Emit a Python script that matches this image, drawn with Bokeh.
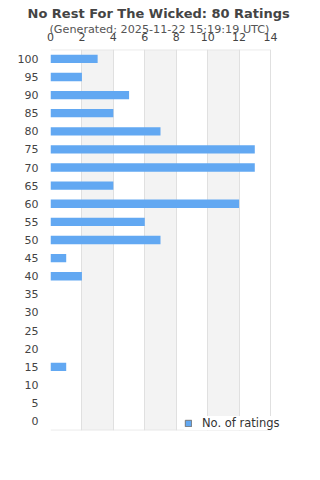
from bokeh.plotting import figure
from bokeh.models import Title, FixedTicker, ColumnDataSource, Legend, LegendItem
from bokeh.embed import file_html
from bokeh.resources import INLINE

scores = [0, 5, 10, 15, 20, 25, 30, 35, 40, 45, 50, 55, 60, 65, 70, 75, 80, 85, 90, 95, 100]
counts = [0, 0, 0, 1, 0, 0, 0, 0, 2, 1, 7, 6, 12, 4, 13, 13, 7, 4, 5, 2, 3]
x_ticks = [0, 2, 4, 6, 8, 10, 12, 14]
series_name = "No. of ratings"
title_text = "No Rest For The Wicked: 80 Ratings"
subtitle_text = "(Generated: 2025-11-22 15:19:19 UTC)"

BAR = "#62a8f2"
GRID = "#e0e0e0"

y_lo, y_hi = -2.5, 102.5
x_max_view = 14 * 250 / 220.0

src = ColumnDataSource(dict(y=scores, right=counts))

p = figure(width=320, height=480, output_backend="svg", toolbar_location=None,
           x_range=(0, x_max_view), y_range=(y_lo - 0.08, y_hi + 0.08),
           x_axis_location="above",
           min_border_left=50, min_border_right=20, min_border_bottom=50,
           min_border_top=0, title=None)

# alternating grey bands between ticks (2-4, 6-8, 10-12)
p.quad(left=x_ticks[1:-1:2], right=x_ticks[2::2], bottom=y_lo, top=y_hi,
       fill_color="#f3f3f3", line_color=None, level="underlay")

r = p.hbar(y="y", right="right", left=0, height=2.3, source=src,
           fill_color=BAR, line_color=None)

# frame top / bottom edges between first and last tick
p.segment(x0=[x_ticks[0], x_ticks[0]], x1=[x_ticks[-1], x_ticks[-1]],
          y0=[y_lo, y_hi], y1=[y_lo, y_hi], line_color=GRID, line_width=1)

# legend swatch renderer (degenerate, zero-size)
sw = p.quad(left=[x_ticks[0]], right=[x_ticks[0]], bottom=[scores[0]],
            top=[scores[0]], fill_color=BAR, line_color="#777777", line_width=1)

p.add_layout(Title(text=subtitle_text, align="left", text_font="DejaVu Sans",
                   text_font_size="11.2px", text_font_style="normal",
                   text_color="#555555", standoff=-13, offset=-1), "above")
p.add_layout(Title(text=title_text, align="left", text_font="DejaVu Sans",
                   text_font_size="13px", text_font_style="bold",
                   text_color="#444444", standoff=10, offset=-23,
                   vertical_align="top"), "above")

p.xaxis.ticker = FixedTicker(ticks=x_ticks)
p.yaxis.ticker = FixedTicker(ticks=scores)
for ax in (p.xaxis[0], p.yaxis[0]):
    ax.axis_line_color = None
    ax.major_tick_line_color = None
    ax.minor_tick_line_color = None
    ax.major_tick_out = 0
    ax.major_tick_in = 0
    ax.major_label_text_font = "DejaVu Sans"
    ax.major_label_text_font_size = "11px"
    ax.major_label_text_color = "#444444"
p.xaxis.major_label_standoff = 9
p.yaxis.major_label_standoff = 12

p.ygrid.grid_line_color = None
p.xgrid.grid_line_color = GRID
p.xgrid.band_fill_color = None
p.outline_line_color = None

legend = Legend(items=[LegendItem(label=series_name, renderers=[sw])],
                location=(134, 0), background_fill_color="white",
                background_fill_alpha=1.0, border_line_color=None,
                label_text_font="DejaVu Sans", label_text_font_size="11.5px",
                label_text_color="#333333", glyph_width=8, glyph_height=8,
                label_standoff=10, padding=8, margin=0, spacing=0,
                label_height=4)
p.add_layout(legend, "center")

open("out.html", "w").write(file_html(p, INLINE))
